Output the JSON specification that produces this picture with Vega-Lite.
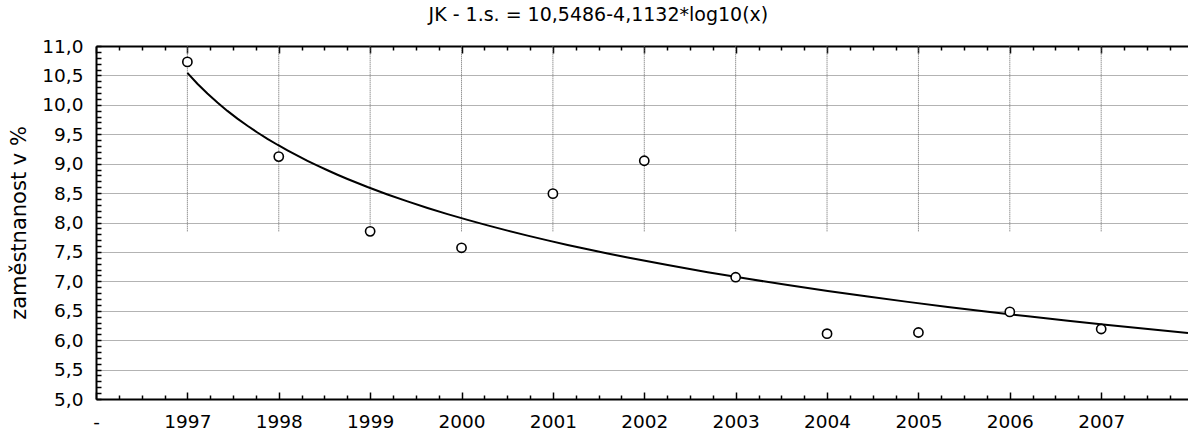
{
  "$schema": "https://vega.github.io/schema/vega-lite/v6.json",
  "width": 1092,
  "height": 353,
  "autosize": "none",
  "padding": {"left": 96, "top": 46, "right": 0, "bottom": 33},
  "background": "white",
  "title": {
    "text": "JK - 1.s. = 10,5486-4,1132*log10(x)",
    "font": "DejaVu Sans",
    "fontSize": 19,
    "fontWeight": "normal",
    "color": "black",
    "frame": "bounds",
    "anchor": "middle",
    "baseline": "alphabetic",
    "offset": -3
  },
  "data": {
    "values": [
      {"i": 1, "year": "1997", "value": 10.73},
      {"i": 2, "year": "1998", "value": 9.12},
      {"i": 3, "year": "1999", "value": 7.85},
      {"i": 4, "year": "2000", "value": 7.57},
      {"i": 5, "year": "2001", "value": 8.49},
      {"i": 6, "year": "2002", "value": 9.05},
      {"i": 7, "year": "2003", "value": 7.07},
      {"i": 8, "year": "2004", "value": 6.11},
      {"i": 9, "year": "2005", "value": 6.13},
      {"i": 10, "year": "2006", "value": 6.48},
      {"i": 11, "year": "2007", "value": 6.19}
    ]
  },
  "config": {
    "view": {"stroke": null},
    "axis": {
      "labelFont": "DejaVu Sans",
      "labelFontSize": 18.5,
      "labelColor": "black",
      "titleFont": "DejaVu Sans",
      "titleFontWeight": "normal",
      "titleColor": "black",
      "domainColor": "black",
      "domainWidth": 2,
      "tickColor": "black",
      "tickWidth": 1.5,
      "gridColor": "#666666",
      "gridDash": [1, 1],
      "gridWidth": 1,
      "labelOverlap": false,
      "labelFlush": false,
      "labelBound": false
    }
  },
  "layer": [
    {
      "mark": {"type": "rule", "color": "#666666", "strokeWidth": 1, "strokeDash": [1, 1]},
      "encoding": {
        "x": {
          "field": "i",
          "type": "quantitative",
          "scale": {"domain": [0, 11.95], "nice": false, "zero": false},
          "axis": null
        },
        "y": {"datum": 7.85, "type": "quantitative", "scale": {"domain": [5, 11], "nice": false, "zero": false}, "axis": null},
        "y2": {"datum": 11}
      }
    },
    {
      "transform": [
        {"regression": "value", "on": "i", "method": "log", "extent": [1, 11.95]}
      ],
      "mark": {"type": "line", "color": "black", "strokeWidth": 2, "clip": true},
      "encoding": {
        "x": {
          "field": "i",
          "type": "quantitative",
          "axis": {
            "orient": "bottom",
            "title": null,
            "values": [0,0.25,0.5,0.75,1,1.25,1.5,1.75,2,2.25,2.5,2.75,3,3.25,3.5,3.75,4,4.25,4.5,4.75,5,5.25,5.5,5.75,6,6.25,6.5,6.75,7,7.25,7.5,7.75,8,8.25,8.5,8.75,9,9.25,9.5,9.75,10,10.25,10.5,10.75,11,11.25,11.5,11.75],
            "labelExpr": "datum.value == 0 ? '-' : (datum.value % 1 == 0 ? '' + (1996 + datum.value) : '')",
            "tickSize": {"condition": {"test": "datum.value % 1 == 0", "value": -7}, "value": -4},
            "labelPadding": 35,
            "labelBaseline": "alphabetic",
            "grid": false
          }
        },
        "y": {
          "field": "value",
          "type": "quantitative",
          "axis": {
            "orient": "left",
            "title": "zaměstnanost v %",
            "titleFontSize": 21,
            "titlePadding": 12,
            "values": [5,5.1,5.2,5.3,5.4,5.5,5.6,5.7,5.8,5.9,6,6.1,6.2,6.3,6.4,6.5,6.6,6.7,6.8,6.9,7,7.1,7.2,7.3,7.4,7.5,7.6,7.7,7.8,7.9,8,8.1,8.2,8.3,8.4,8.5,8.6,8.7,8.8,8.9,9,9.1,9.2,9.3,9.4,9.5,9.6,9.7,9.8,9.9,10,10.1,10.2,10.3,10.4,10.5,10.6,10.7,10.8,10.9,11],
            "labelExpr": "abs(datum.value*2 - round(datum.value*2)) < 0.01 ? replace(format(datum.value, '.1f'), '.', ',') : ''",
            "tickSize": -5,
            "labelPadding": 18,
            "grid": true,
            "gridOpacity": {"condition": {"test": "abs(datum.value*2 - round(datum.value*2)) < 0.01 && datum.value > 5.01 && datum.value < 10.99", "value": 1}, "value": 0}
          }
        }
      }
    },
    {
      "mark": {"type": "point", "shape": "circle", "filled": false, "fill": "white", "fillOpacity": 1, "stroke": "black", "strokeWidth": 1.6, "size": 85, "opacity": 1},
      "encoding": {
        "x": {
          "field": "i",
          "type": "quantitative",
          "axis": {
            "orient": "top",
            "title": null,
            "labels": false,
            "grid": false,
            "values": [0,0.25,0.5,0.75,1,1.25,1.5,1.75,2,2.25,2.5,2.75,3,3.25,3.5,3.75,4,4.25,4.5,4.75,5,5.25,5.5,5.75,6,6.25,6.5,6.75,7,7.25,7.5,7.75,8,8.25,8.5,8.75,9,9.25,9.5,9.75,10,10.25,10.5,10.75,11,11.25,11.5,11.75],
            "tickSize": {"condition": {"test": "datum.value % 1 == 0", "value": -7}, "value": -4}
          }
        },
        "y": {"field": "value", "type": "quantitative", "axis": null}
      }
    }
  ],
  "resolve": {"axis": {"x": "independent", "y": "independent"}}
}
